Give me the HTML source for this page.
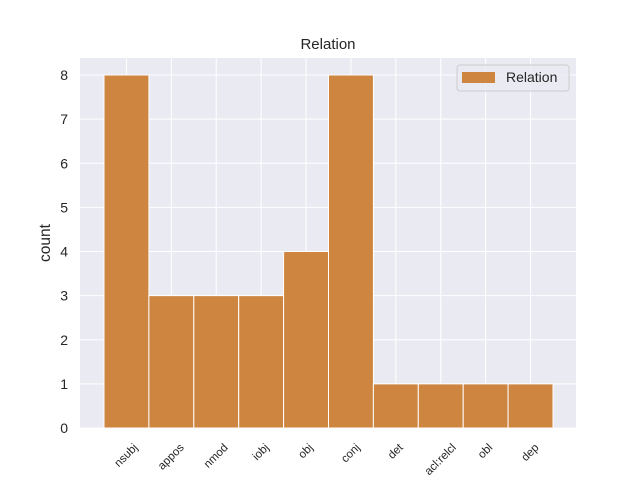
<!DOCTYPE html>
<html><head><meta charset="utf-8"><style>body{margin:0;background:#fff}svg{display:block;font-family:"Liberation Sans","DejaVu Sans",sans-serif}</style></head>
<body>
<svg id="c" width="640" height="480">
<rect x="80" y="58" width="496" height="370" fill="#eaeaf2"/>
<g id="grid"></g><g id="bars"></g><g id="ticks"></g>
<text x="328" y="49" text-anchor="middle" font-size="15" fill="#262626">Relation</text>
<text transform="translate(50,243) rotate(-90)" text-anchor="middle" font-size="15.5" fill="#262626">count</text>
<g>
<rect x="457" y="65" width="112" height="26" rx="3" fill="#eaeaf2" fill-opacity="0.8" stroke="#ccc"/>
<rect x="462" y="72" width="33" height="11" fill="#cd853f"/>
<text x="506" y="82" font-size="14" fill="#262626">Relation</text>
</g>
</svg>
<script>
const categories=["nsubj","appos","nmod","iobj","obj","conj","det","acl:relcl","obl","dep"];
const counts=[8,3,3,3,4,8,1,1,1,1];
const yTicks=[0,1,2,3,4,5,6,7,8];
const NS="http://www.w3.org/2000/svg";
const x0=104,bw=44.9,yBase=428,yUnit=44.125;
const xs=i=>x0+i*bw, ys=v=>yBase-v*yUnit;
const g=document.getElementById('grid'),b=document.getElementById('bars'),t=document.getElementById('ticks');
function mk(tag,at,p){const e=document.createElementNS(NS,tag);for(const k in at)e.setAttribute(k,at[k]);p.appendChild(e);return e;}
yTicks.forEach(v=>{
 const l=mk('line',{x1:80,x2:576,y1:ys(v),y2:ys(v),stroke:'#fff','stroke-width':1},g);
 
 
 const tx=mk('text',{x:68,y:ys(v)+5,'text-anchor':'end','font-size':14,fill:'#262626'},t);
 tx.textContent=v;
 
 
});
const fs=11.5;
categories.forEach((c,i)=>{
 const cx=xs(i)+bw/2;
 const l=mk('line',{x1:cx,x2:cx,y1:58,y2:428,stroke:'#fff','stroke-width':1},g);
 
 
 const r=mk('rect',{x:xs(i),y:ys(counts[i]),width:bw,height:counts[i]*yUnit,fill:'#cd853f',stroke:'#fff','stroke-width':1},b);
 
 
 const tx=mk('text',{'text-anchor':'middle','dominant-baseline':'central','font-size':fs,fill:'#262626'},t);
 tx.textContent=c;
 
 
 const L=tx.getComputedTextLength();
 const cy=442+(L+fs)*0.7071/2;
 tx.setAttribute('transform',`translate(${cx},${cy}) rotate(-45)`);
});
</script>
</body></html>
